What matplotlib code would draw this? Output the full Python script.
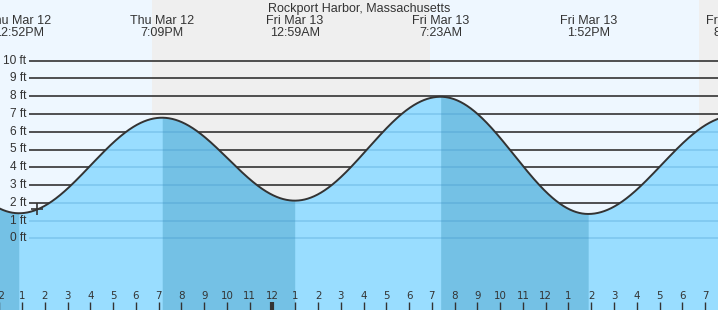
import numpy as np
import matplotlib.pyplot as plt

plt.rcParams['font.family'] = ['Liberation Sans', 'DejaVu Sans']

# tide extremes, hours from Thu Mar 12 00:00 (first and last fall off the chart)
event_hour = [6.6, 12.867, 19.15, 24.983, 31.383, 37.867, 44.3, 50.5]
event_ft = [7.4, 1.41, 6.79, 2.12, 7.97, 1.37, 6.9, 2.2]
event_day = ["", "Thu Mar 12", "Thu Mar 12", "Fri Mar 13", "Fri Mar 13", "Fri Mar 13", "Fri Mar 13", ""]
event_clock = ["", "12:52PM", "7:09PM", "12:59AM", "7:23AM", "1:52PM", "8:18PM", ""]

# night (sunset -> sunrise)
night_start = [18.71, 42.73]
night_end = [30.92, 60.0]

# current time marker
now_hour = 13.66
now_ft = 1.65

grid_ft = list(range(0, 11))
tick_hours = list(range(12, 45))

title = "Rockport Harbor, Massachusetts"

# pixel <-> data helpers (axes fill the whole 718x310 figure)
px_per_hr = 22.77
px_per_ft = 17.76
t0 = 13 - 22 / px_per_hr
t1 = t0 + 718 / px_per_hr
ft_top = 238.3 / px_per_ft
ft_bot = (238.3 - 310) / px_per_ft


def hx(px):
    return t0 + px / px_per_hr


def fy(py):
    return (238.3 - py) / px_per_ft


day_bg = '#eef7ff'
night_bg = '#efefef'
light = '#99ddff'
dark = '#74c1e5'
ink = '#333333'

fig = plt.figure(figsize=(7.18, 3.10), dpi=100)
ax = fig.add_axes([0, 0, 1, 1])
ax.set_axis_off()
ax.set_xlim(t0, t1)
ax.set_ylim(ft_bot, ft_top)

ax.axvspan(t0, t1, color=day_bg, zorder=0, lw=0)
for a, b in zip(night_start, night_end):
    ax.axvspan(a, b, color=night_bg, zorder=0, lw=0)

# tide curve: cosine between successive highs and lows
t = np.linspace(event_hour[0], event_hour[-1], 4000)
h = np.zeros_like(t)
for i in range(len(event_hour) - 1):
    a, b = event_hour[i], event_hour[i + 1]
    m = (t >= a) & (t <= b)
    frac = (t[m] - a) / (b - a)
    h[m] = event_ft[i] + (event_ft[i + 1] - event_ft[i]) * (1 - np.cos(np.pi * frac)) / 2

under = ax.fill_between(t, ft_bot, h, color=light, lw=0, zorder=2)
for i in range(len(event_hour) - 1):
    if event_ft[i] > event_ft[i + 1]:
        m = (t >= event_hour[i]) & (t <= event_hour[i + 1])
        ax.fill_between(t[m], ft_bot, h[m], color=dark, lw=0, zorder=2)

xg = hx(29)
ax.hlines(grid_ft, xg, t1, colors=ink, lw=1.2, zorder=1)
faint = ax.hlines(grid_ft, xg, t1, colors='#2f86bf', lw=1.2, alpha=0.25, zorder=3)
faint.set_clip_path(under.get_paths()[0], ax.transData)

ax.plot(t, h, color=ink, lw=1.4, zorder=4)
ax.plot([now_hour], [now_ft], marker='+', ms=9, mew=1.2, color=ink, zorder=5)

for v in grid_ft:
    ax.text(hx(26), v, f"{v} ft", ha='right', va='center', fontsize=8.6, color=ink, zorder=6)

# hour ticks along the bottom
for hr in tick_hours:
    lab = (hr - 1) % 12 + 1
    ax.text(hr, fy(299), str(lab), ha='center', va='baseline', fontsize=7.4,
            family='DejaVu Sans', color=ink, zorder=6)
    ax.vlines(hr, fy(302), ft_bot, colors=ink, lw=3 if hr % 24 == 0 else 1, zorder=6)

# header
ax.text((t0 + t1) / 2, fy(12), title, ha='center', va='baseline', fontsize=9, color=ink, zorder=6)
for hr, d, c in zip(event_hour, event_day, event_clock):
    if not d:
        continue
    ax.text(hr, fy(24), d, ha='center', va='baseline', fontsize=9, color=ink, zorder=6)
    ax.text(hr, fy(36), c, ha='center', va='baseline', fontsize=9, color=ink, zorder=6)

fig.savefig('out.png', dpi=100)
